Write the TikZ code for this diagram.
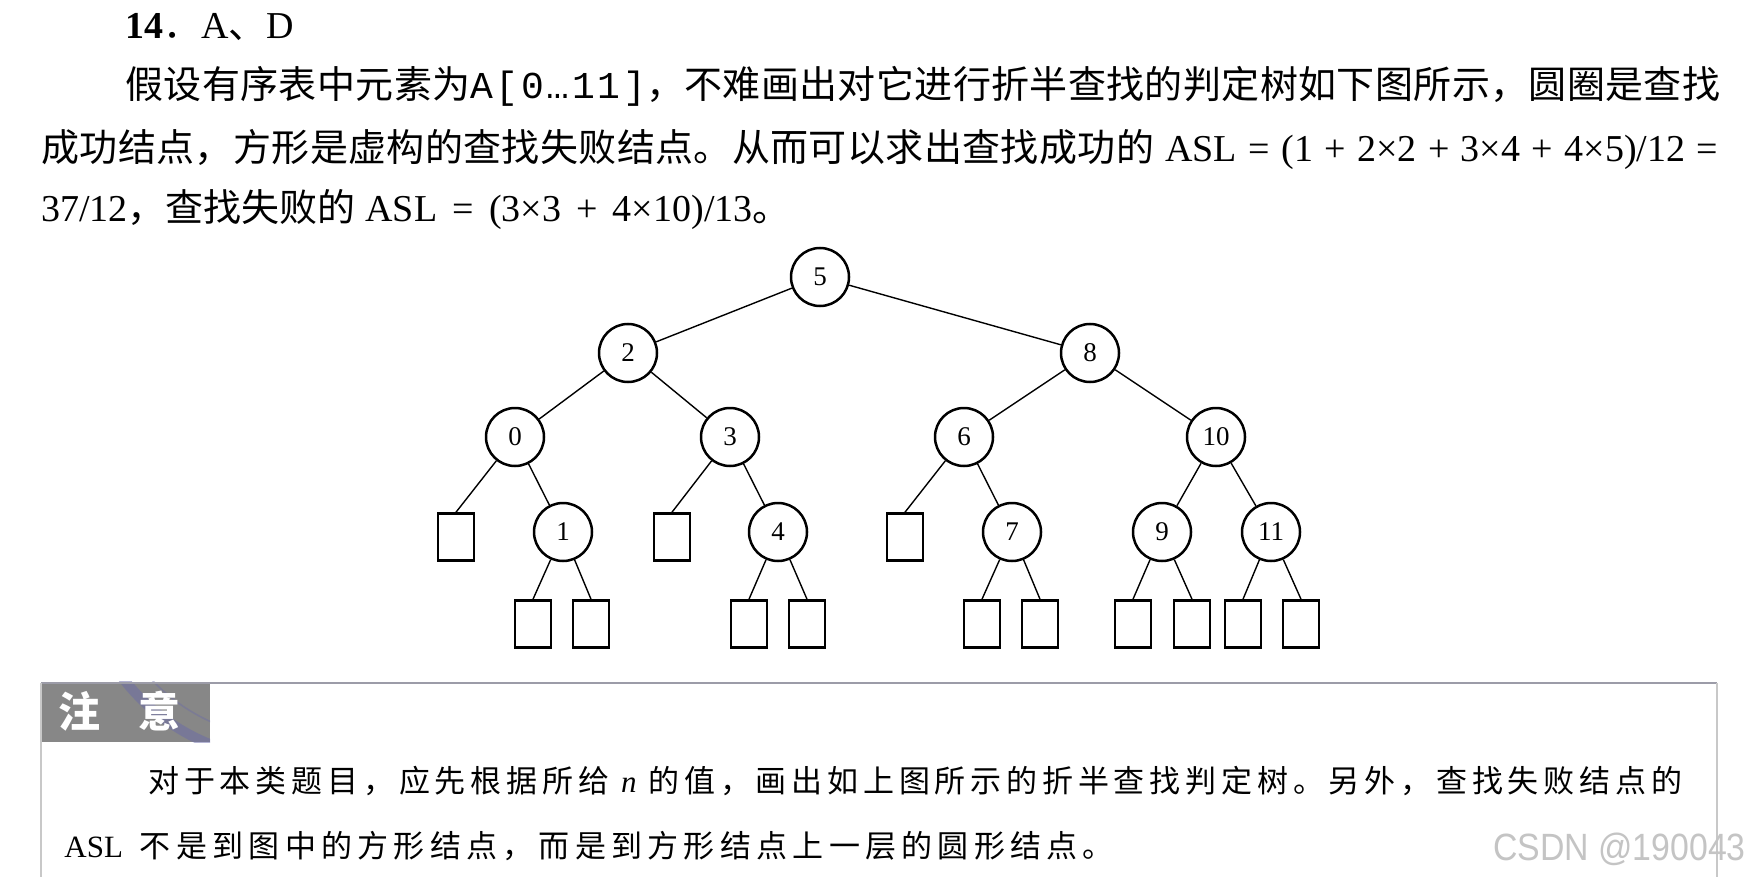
\documentclass[tikz,border=0pt]{standalone}
\usepackage{fontspec}
\usepackage{graphicx}
\setmainfont{Liberation Serif}
\newfontfamily\cjk{Noto Sans CJK SC}
\newfontfamily\kai[LetterSpace=17]{Noto Sans CJK SC}
\newfontfamily\kaiwide[LetterSpace=15.5]{Noto Sans CJK SC}
\newfontfamily\cjkwide[LetterSpace=1]{Noto Sans CJK SC}
\newfontfamily\mono[LetterSpace=7]{Liberation Mono}
\newfontfamily\wmfont{Liberation Sans}
\definecolor{hdr}{HTML}{878787}
\definecolor{topline}{HTML}{9C9CA8}
\definecolor{sideline}{HTML}{C8C8C8}
\definecolor{stampc}{HTML}{6A6AA8}
\definecolor{wmgray}{HTML}{C4C4C4}
\tikzset{
  inn/.style={circle, draw, line width=1.25pt, minimum size=29pt, inner sep=0pt,
              font=\fontsize{13.5pt}{13.5pt}\selectfont},
  ext/.style={rectangle, draw, line width=1.3pt, minimum width=18pt,
              minimum height=23.5pt, inner sep=0pt},
  edge/.style={line width=0.7pt},
  txt/.style={anchor=base west, inner sep=0pt, font=\fontsize{19pt}{19pt}\selectfont},
  notetxt/.style={anchor=base west, inner sep=0pt, font=\fontsize{15.5pt}{15.5pt}\selectfont},
}
\begin{document}
\begin{tikzpicture}[x=0.5pt,y=-0.5pt]
\useasboundingbox (0,0) rectangle (1750,877);
\fill[white] (0,0) rectangle (1750,877);

% ---- text above the tree ----
\node[txt] (l1) at (125,39) {\textbf{14}{\cjk ．}A{\cjk 、}D};
\node[txt] (l2) at (125,99) {{\cjkwide 假设有序表中元素为}{\mono A[0…11]}{\cjkwide ，不难画出对它进行折半查找的判定树如下图所示，圆圈是查找}};
\node[txt] (l3a) at (41,162) {\cjkwide 成功结点，方形是虚构的查找失败结点。从而可以求出查找成功的};
\node[txt] (l3b) at (1165,162) {ASL\hspace{0.3em}=\hspace{0.3em}(1\hspace{0.3em}+\hspace{0.3em}2×2\hspace{0.3em}+\hspace{0.3em}3×4\hspace{0.3em}+\hspace{0.3em}4×5)/12\hspace{0.3em}=};
\node[txt] (l4) at (41,222) {37/12{\cjk ，查找失败的} ASL\hspace{0.4em}=\hspace{0.4em}(3×3\hspace{0.4em}+\hspace{0.4em}4×10)/13{\cjk 。}};

% ---- decision tree ----
\node[inn] (c5) at (820,277) {5};
\node[inn] (c2) at (628,353) {2};
\node[inn] (c8) at (1090,353) {8};
\node[inn] (c0) at (515,437) {0};
\node[inn] (c3) at (730,437) {3};
\node[inn] (c6) at (964,437) {6};
\node[inn] (c10) at (1216,437) {10};
\node[inn] (c1) at (563,532) {1};
\node[inn] (c4) at (778,532) {4};
\node[inn] (c7) at (1012,532) {7};
\node[inn] (c9) at (1162,532) {9};
\node[inn] (c11) at (1271,532) {11};
\node[ext] (s0) at (456,537) {};
\node[ext] (s2) at (672,537) {};
\node[ext] (s5) at (905,537) {};
\node[ext] (s1a) at (533,624) {};
\node[ext] (s1b) at (591,624) {};
\node[ext] (s4a) at (749,624) {};
\node[ext] (s4b) at (807,624) {};
\node[ext] (s7a) at (982,624) {};
\node[ext] (s7b) at (1040,624) {};
\node[ext] (s9a) at (1133,624) {};
\node[ext] (s9b) at (1192,624) {};
\node[ext] (s11a) at (1243,624) {};
\node[ext] (s11b) at (1301,624) {};

\foreach \a/\b in {c5/c2,c5/c8,c2/c0,c2/c3,c8/c6,c8/c10,c0/c1,c3/c4,c6/c7,c10/c9,c10/c11}
  \draw[edge] (\a) -- (\b);
\foreach \a/\b in {c0/s0,c3/s2,c6/s5,c1/s1a,c1/s1b,c4/s4a,c4/s4b,c7/s7a,c7/s7b,c9/s9a,c9/s9b,c11/s11a,c11/s11b}
  \draw[edge] (\a) -- (\b.north);

% ---- note box ----
\fill[hdr] (41,683) rectangle (210,742);
\begin{scope}
  \clip (41,681) rectangle (210,742);
  \draw[stampc, opacity=0.5, line width=5pt] (287,552) circle (207);
  \draw[stampc, opacity=0.4, line width=0.8pt] (287,552) circle (186);
\end{scope}
\draw[topline, line width=1.1pt] (41,683) -- (1717,683);
\draw[sideline, line width=1pt] (41,683) -- (41,877);
\draw[sideline, line width=1pt] (1717,683) -- (1717,877);
\node[anchor=base west, inner sep=0pt, text=white,
      font=\cjk\bfseries\fontsize{21pt}{21pt}\selectfont] (hd) at (58,727) {注\hspace{0.9em}意};

\node[notetxt] (n1) at (148,792) {\kaiwide 对于本类题目，应先根据所给\hspace{6pt}{\rmfamily\itshape n}\hspace{6pt}的值，画出如上图所示的折半查找判定树。另外，查找失败结点的};
\node[notetxt] (n2) at (64,857) {ASL\hspace{8.5pt}{\kai 不是到图中的方形结点，而是到方形结点上一层的圆形结点。}};

% ---- watermark ----
\node[anchor=base west, inner sep=0pt, text=wmgray,
      font=\wmfont\fontsize{19pt}{19pt}\selectfont] (wm) at (1493,860) {\scalebox{0.89}[1]{CSDN @190043}};
\end{tikzpicture}
\end{document}
